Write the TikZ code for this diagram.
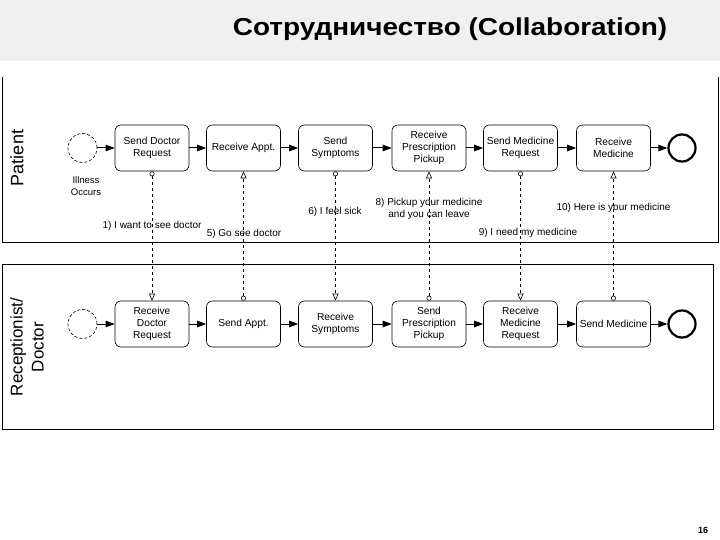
\documentclass[tikz,border=0pt]{standalone}
\usepackage{fontspec}
\setmainfont{Liberation Sans}
\usetikzlibrary{arrows.meta}
\begin{document}
\begin{tikzpicture}[x=1pt,y=-1pt,
 task/.style={draw, rounded corners=6pt, minimum width=74pt, minimum height=46pt, align=center, font=\fontsize{10.2}{12}\selectfont, inner sep=1pt, line width=0.6pt},
 startev/.style={circle, draw, densely dashed, minimum size=29pt, inner sep=0pt, line width=0.6pt},
 endev/.style={circle, draw, line width=2.2pt, minimum size=27pt, inner sep=0pt},
 seq/.style={line width=1pt, -{Triangle[length=9pt,width=6.5pt]}},
 msg/.style={dashed, line width=0.6pt, {Circle[open,length=5pt]}-{Triangle[open,length=7pt,width=6pt]}},
 lbl/.style={font=\fontsize{10}{12}\selectfont, align=center, inner sep=0.5pt},
 pool/.style={line width=0.8pt}
]
\useasboundingbox (0,0) rectangle (720,540);
\fill[white] (0,0) rectangle (720,540);
\fill[black!6] (0,0) rectangle (720,61);
\node[font=\bfseries\fontsize{24.5}{28}\selectfont] (title) at (450,29) {\scalebox{1.14}[1]{Сотрудничество (Collaboration)}};

% pools
\draw[pool] (2,77) -- (2,242) -- (718,242) -- (718,77);
\draw[pool] (2,264) rectangle (713,429);
\node[rotate=90, font=\fontsize{18}{20}\selectfont] (plabel) at (17,158) {Patient};
\node[rotate=90, align=center, font=\fontsize{17}{21}\selectfont] (rlabel) at (27,347) {Receptionist/\\Doctor};

% patient lane
\node[startev] (ps) at (82.5,148) {};
\node[lbl, font=\fontsize{9.5}{12}\selectfont] (ill) at (86,186) {Illness\\Occurs};
\node[task] (p1) at (152,148) {Send Doctor\\Request};
\node[task] (p2) at (243.5,148) {Receive Appt.};
\node[task] (p3) at (335.5,148) {Send\\Symptoms};
\node[task] (p4) at (429,148) {Receive\\Prescription\\Pickup};
\node[task] (p5) at (520.5,148) {Send Medicine\\Request};
\node[task] (p6) at (613.5,148) {Receive\\Medicine};
\node[endev] (pe) at (682,148) {};

% receptionist lane
\node[startev] (rs) at (82.5,324) {};
\node[task] (r1) at (152,324) {Receive\\Doctor\\Request};
\node[task] (r2) at (243.5,324) {Send Appt.};
\node[task] (r3) at (335.5,324) {Receive\\Symptoms};
\node[task] (r4) at (429,324) {Send\\Prescription\\Pickup};
\node[task] (r5) at (520.5,324) {Receive\\Medicine\\Request};
\node[task] (r6) at (613.5,324) {Send Medicine};
\node[endev] (re) at (682,324) {};

% sequence flows
\draw[seq] (ps) -- (p1);
\draw[seq] (p1) -- (p2);
\draw[seq] (p2) -- (p3);
\draw[seq] (p3) -- (p4);
\draw[seq] (p4) -- (p5);
\draw[seq] (p5) -- (p6);
\draw[seq] (p6) -- (pe);
\draw[seq] (rs) -- (r1);
\draw[seq] (r1) -- (r2);
\draw[seq] (r2) -- (r3);
\draw[seq] (r3) -- (r4);
\draw[seq] (r4) -- (r5);
\draw[seq] (r5) -- (r6);
\draw[seq] (r6) -- (re);

% message flows
\draw[msg] (p1.south) -- (r1.north);
\draw[msg] (r2.north) -- (p2.south);
\draw[msg] (p3.south) -- (r3.north);
\draw[msg] (r4.north) -- (p4.south);
\draw[msg] (p5.south) -- (r5.north);
\draw[msg] (r6.north) -- (p6.south);

% message labels
\node[lbl] (m1) at (152,226) {1) I want to see doctor};
\node[lbl] (m5) at (244,234) {5) Go see doctor};
\node[lbl] (m6) at (335,212) {6) I feel sick};
\node[lbl] (m8) at (429,209) {8) Pickup your medicine\\and you can leave};
\node[lbl] (m9) at (528,233) {9) I need my medicine};
\node[lbl] (m10) at (613.5,208) {10) Here is your medicine};

\node[font=\bfseries\fontsize{9}{11}\selectfont] (pg) at (703,530) {16};
\end{tikzpicture}
\end{document}
